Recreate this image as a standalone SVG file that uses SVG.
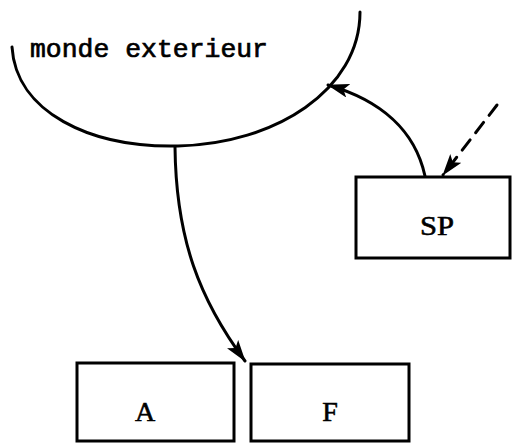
<svg xmlns="http://www.w3.org/2000/svg" width="512" height="443" viewBox="0 0 512 443">
<style>
.ln{fill:none;stroke:#000;stroke-width:3;stroke-linecap:round}
.box{fill:#fff;stroke:#000;stroke-width:3}
.t{font-family:"Liberation Serif",serif;font-size:28px;fill:#000;stroke:#000;stroke-width:0.6;text-anchor:middle}
</style>
<defs>
<marker id="ahb" markerWidth="22" markerHeight="14" refX="21" refY="7" orient="auto" markerUnits="userSpaceOnUse">
<path d="M0,0 L22,7 L0,14 L5,7 Z" fill="#000"/>
</marker>
</defs>
<rect width="512" height="443" fill="#fff"/>
<g id="monde">
<path class="ln" d="M12,47 C16,112 90,148 178,146 C275,144 360,90 360,12"/>
<text x="30" y="57" font-family="Liberation Mono,monospace" font-size="26" stroke="#000" stroke-width="0.7" textLength="238" lengthAdjust="spacingAndGlyphs">monde exterieur</text>
</g>
<g id="SP">
<rect class="box" x="356" y="177" width="154" height="81"/>
<text class="t" x="437" y="235" textLength="34" lengthAdjust="spacingAndGlyphs">SP</text>
</g>
<g id="A">
<rect class="box" x="77" y="363" width="157" height="78"/>
<text class="t" x="145" y="421">A</text>
</g>
<g id="F">
<rect class="box" x="251" y="364" width="158" height="77"/>
<text class="t" x="330" y="421">F</text>
</g>
<g id="connectors">
<path class="ln" d="M425,176 C415,130 380,100 328,85" marker-end="url(#ahb)"/>
<path class="ln" d="M497,105 L443,175" stroke-width="3.5" stroke-dasharray="13,9" marker-end="url(#ahb)"/>
<path class="ln" d="M175,147 C176,240 200,300 245,361" marker-end="url(#ahb)"/>
</g>
</svg>
